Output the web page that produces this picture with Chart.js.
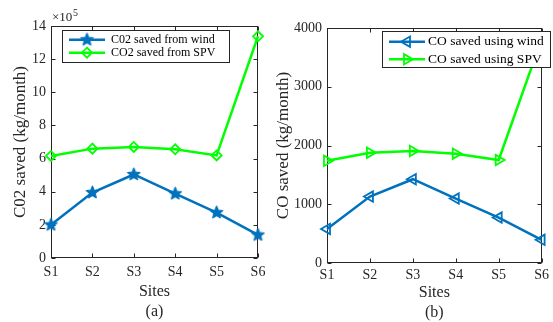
<!DOCTYPE html>
<html>
<head>
<meta charset="utf-8">
<script src="https://cdn.jsdelivr.net/npm/chart.js@4.4.0/dist/chart.umd.min.js"></script>
<style>
html, body { margin: 0; padding: 0; background: #fff; }
canvas { position: absolute; top: 0; }
#chartA { left: 0; }
#chartB { left: 275px; }
</style>
</head>
<body>
<canvas id="chartA" width="275" height="322"></canvas>
<canvas id="chartB" width="278" height="322"></canvas>
<script>
// data
const sites = ['S1', 'S2', 'S3', 'S4', 'S5', 'S6'];
const co2Wind = [200000, 395000, 504000, 388000, 274000, 139000];
const co2Spv = [616000, 660000, 670000, 656000, 619000, 1338000];
const coWind = [580, 1131, 1426, 1097, 773, 395];
const coSpv = [1740, 1878, 1907, 1861, 1753, 3810];
const co2Ticks = [0, 200000, 400000, 600000, 800000, 1000000, 1200000, 1400000];
const coTicks = [0, 1000, 2000, 3000, 4000];

const BLUE = '#0072BD';
const GREEN = '#00FF00';
const AXIS = '#262626';
const SERIF = '"Liberation Serif", "Times New Roman", serif';

Chart.defaults.font.family = SERIF;
Chart.defaults.color = AXIS;

function starImage(r, color) {
    const s = Math.ceil(r * 2 + 4);
    const c = document.createElement('canvas');
    c.width = c.height = s;
    const g = c.getContext('2d');
    g.beginPath();
    for (let i = 0; i < 10; i++) {
        const rr = i % 2 ? r * 0.45 : r;
        const ang = -Math.PI / 2 + i * Math.PI / 5;
        g.lineTo(s / 2 + rr * Math.cos(ang), s / 2 + rr * Math.sin(ang));
    }
    g.closePath();
    g.fillStyle = color;
    g.fill();
    g.strokeStyle = color;
    g.lineWidth = 1.2;
    g.lineJoin = 'round';
    g.stroke();
    return c;
}
const star = starImage(6.5, BLUE);

// marker for the legend (same shapes as the data points)
function drawMarker(ctx, ds, x, y) {
    const st = ds.pointStyle;
    if (st instanceof HTMLCanvasElement) {
        ctx.drawImage(st, x - st.width / 2, y - st.height / 2);
        return;
    }
    const r = ds.pointRadius;
    ctx.beginPath();
    if (st === 'rectRot') {
        ctx.moveTo(x, y - r); ctx.lineTo(x + r, y); ctx.lineTo(x, y + r); ctx.lineTo(x - r, y);
    } else {
        let rad = (ds.pointRotation || 0) * Math.PI / 180;
        for (let i = 0; i < 3; i++) {
            ctx.lineTo(x + Math.sin(rad) * r, y - Math.cos(rad) * r);
            rad += 2 * Math.PI / 3;
        }
    }
    ctx.closePath();
    ctx.lineWidth = ds.pointBorderWidth;
    ctx.strokeStyle = ds.borderColor;
    ctx.stroke();
}

// MATLAB style box with inward ticks
const framePlugin = {
    id: 'frame',
    beforeDatasetsDraw(chart) {
        const {ctx, chartArea: a, scales: {x, y}} = chart;
        const L = Math.round(a.left) + 0.5, R = Math.round(a.right) - 0.5;
        const T = Math.round(a.top) + 0.5, B = Math.round(a.bottom) - 0.5;
        ctx.save();
        ctx.strokeStyle = AXIS;
        ctx.lineWidth = 1;
        ctx.strokeRect(L, T, R - L, B - T);
        ctx.beginPath();
        x.ticks.forEach((t, i) => {
            const px = Math.round(x.getPixelForTick(i)) + 0.5;
            ctx.moveTo(px, B); ctx.lineTo(px, B - 4);
            ctx.moveTo(px, T); ctx.lineTo(px, T + 4);
        });
        y.ticks.forEach(t => {
            const py = Math.round(y.getPixelForValue(t.value)) + 0.5;
            ctx.moveTo(L, py); ctx.lineTo(L + 4, py);
            ctx.moveTo(R, py); ctx.lineTo(R - 4, py);
        });
        ctx.stroke();
        ctx.restore();
    },
    afterDatasetsDraw(chart, args, opts) {
        const ctx = chart.ctx;
        const lg = opts.legend;
        ctx.save();
        ctx.fillStyle = '#fff';
        ctx.fillRect(lg.x, lg.y, lg.w, lg.h);
        ctx.strokeStyle = AXIS;
        ctx.lineWidth = 1;
        ctx.strokeRect(lg.x + 0.5, lg.y + 0.5, lg.w, lg.h);
        chart.data.datasets.forEach((ds, i) => {
            const yy = lg.rows[i];
            ctx.beginPath();
            ctx.moveTo(lg.x0, yy); ctx.lineTo(lg.x1, yy);
            ctx.strokeStyle = ds.borderColor;
            ctx.lineWidth = ds.borderWidth;
            ctx.stroke();
            drawMarker(ctx, ds, (lg.x0 + lg.x1) / 2, yy);
            ctx.fillStyle = '#000';
            ctx.font = lg.font + 'px ' + SERIF;
            ctx.textAlign = 'left';
            ctx.textBaseline = 'middle';
            ctx.fillText(ds.label, lg.tx, yy);
        });
        if (opts.exponent) {
            ctx.fillStyle = AXIS;
            ctx.textBaseline = 'middle';
            ctx.font = '13px ' + SERIF;
            ctx.fillText('\u00d710', 52, 18);
            ctx.font = '10px ' + SERIF;
            ctx.fillText('5', 73, 13);
        }
        ctx.restore();
    }
};

function makeChart(id, cfg) {
    return new Chart(document.getElementById(id), {
        type: 'line',
        data: {labels: sites, datasets: cfg.datasets},
        options: {
            responsive: false,
            animation: false,
            layout: {padding: cfg.padding},
            plugins: {
                legend: {display: false},
                tooltip: {enabled: false},
                frame: {legend: cfg.legend, exponent: cfg.exponent}
            },
            scales: {
                x: {
                    grid: {display: false, drawTicks: false},
                    border: {display: false},
                    ticks: {font: {size: 14}, padding: cfg.xPad, autoSkip: false, maxRotation: 0, color: AXIS},
                    title: {display: true, text: ['Sites', cfg.tag], font: {size: 16}, padding: {top: 0, bottom: cfg.xTitlePad}, color: AXIS},
                    afterFit(s) { s.height = cfg.xHeight; }
                },
                y: {
                    min: cfg.ticks[0],
                    max: cfg.ticks[cfg.ticks.length - 1],
                    grid: {display: false, drawTicks: false},
                    border: {display: false},
                    ticks: {font: {size: 14}, padding: 5, color: AXIS, callback: cfg.tickFmt},
                    afterBuildTicks(s) { s.ticks = cfg.ticks.map(v => ({value: v})); },
                    title: {display: true, text: cfg.yTitle, font: {size: cfg.yTitleSize}, padding: {top: cfg.yTitlePad, bottom: 0}, color: AXIS},
                    afterFit(s) { s.width = cfg.yWidth; }
                }
            }
        },
        plugins: [framePlugin]
    });
}

makeChart('chartA', {
    datasets: [
        {label: 'C02 saved from wind', data: co2Wind, borderColor: BLUE, backgroundColor: BLUE, borderWidth: 2.5,
         pointStyle: star, pointRadius: 6, pointBorderWidth: 1, clip: false},
        {label: 'CO2 saved from SPV', data: co2Spv, borderColor: GREEN, backgroundColor: 'rgba(0,0,0,0)', borderWidth: 2.5,
         pointStyle: 'rectRot', pointRadius: 5, pointBorderWidth: 1.8, pointBackgroundColor: 'rgba(0,0,0,0)', clip: false}
    ],
    ticks: co2Ticks,
    tickFmt: v => v / 100000,
    yTitle: 'C02 saved (kg/month)',
    yTitleSize: 17,
    yTitlePad: 10,
    tag: '(a)',
    padding: {left: 0, top: 26, right: 17, bottom: 0},
    yWidth: 51,
    xHeight: 64,
    xPad: 6,
    xTitlePad: 1,
    exponent: true,
    legend: {x: 62, y: 30, w: 167, h: 32, rows: [39.7, 52.7], x0: 69, x1: 105, tx: 111, font: 12}
});

makeChart('chartB', {
    datasets: [
        {label: 'CO saved using wind', data: coWind, borderColor: BLUE, borderWidth: 2.5,
         pointStyle: 'triangle', pointRotation: -90, pointRadius: 6, pointBorderWidth: 1.8, pointBackgroundColor: 'rgba(0,0,0,0)', clip: false},
        {label: 'CO saved using SPV', data: coSpv, borderColor: GREEN, borderWidth: 2.5,
         pointStyle: 'triangle', pointRotation: 90, pointRadius: 6, pointBorderWidth: 1.8, pointBackgroundColor: 'rgba(0,0,0,0)', clip: false}
    ],
    ticks: coTicks,
    tickFmt: v => v,
    yTitle: 'CO saved (kg/month)',
    yTitleSize: 17,
    yTitlePad: -2,
    tag: '(b)',
    padding: {left: 0, top: 28, right: 10, bottom: 0},
    yWidth: 52,
    xHeight: 59,
    xPad: 4,
    xTitlePad: 0,
    exponent: false,
    legend: {x: 107, y: 31, w: 168, h: 36, rows: [41.7, 59.3], x0: 114, x1: 150, tx: 153, font: 13.5}
});
</script>
</body>
</html>
